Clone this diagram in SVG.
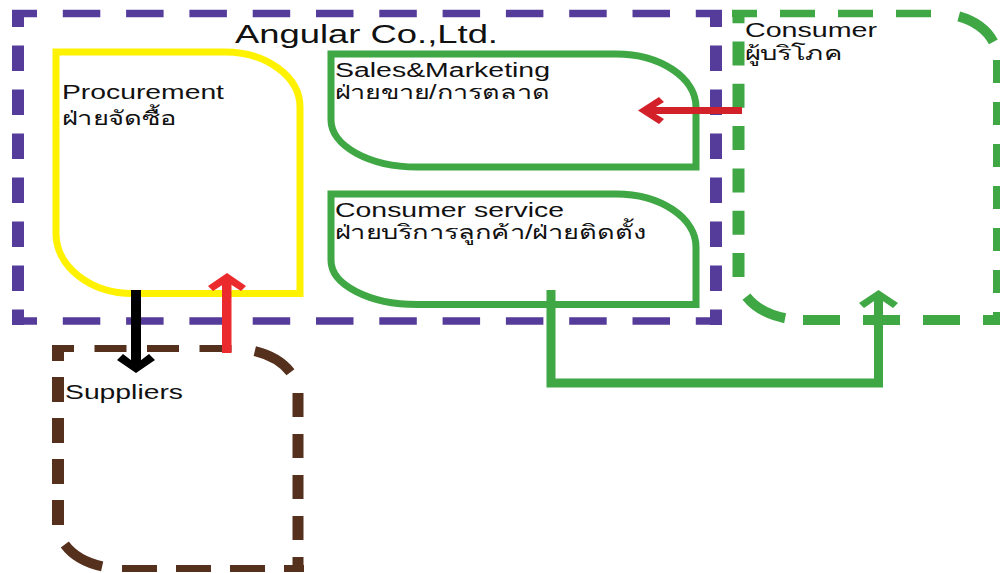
<svg xmlns="http://www.w3.org/2000/svg" width="1000" height="573" viewBox="0 0 1000 573">
<style>
.lbl{font-family:"Liberation Sans","DejaVu Sans","Noto Sans",sans-serif;font-size:19.5px;fill:#111}
.ttl{font-family:"Liberation Sans","DejaVu Sans","Noto Sans",sans-serif;font-size:26.5px;fill:#111}
.pH{fill:none;stroke:#553c9a;stroke-width:7.5;stroke-dasharray:37.5 25.8;stroke-dashoffset:12.5}
.pV{fill:none;stroke:#553c9a;stroke-width:12;stroke-dasharray:25.5 18.5;stroke-dashoffset:8.5}
.g{fill:none;stroke:#3fa844}
.b{fill:none;stroke:#55301c}
</style>
<rect width="1000" height="573" fill="#ffffff"/>
<g id="company">
<path class="pH" d="M12,13.5 H722"/>
<path class="pH" d="M12,321 H722"/>
<path class="pV" d="M18,10 V325"/>
<path class="pV" d="M716,10 V325"/>
<text class="ttl" x="235" y="43" textLength="263" lengthAdjust="spacingAndGlyphs">Angular Co.,Ltd.</text>
</g>
<g id="procurement">
<path d="M56,52 H225 A75,55 0 0 1 300,107 V293.5 H133 A77,60 0 0 1 56,233.5 Z" fill="none" stroke="#fff200" stroke-width="7"/>
<text class="lbl" x="62" y="99" textLength="162" lengthAdjust="spacingAndGlyphs">Procurement</text>
<text class="lbl" x="62" y="125" textLength="115" lengthAdjust="spacingAndGlyphs">ฝ่ายจัดซื้อ</text>
</g>
<g id="sales">
<path class="g" stroke-width="7" d="M331,54 H616 A80,53 0 0 1 696,107 V167 H417 A86,47 0 0 1 331,120 Z"/>
<text class="lbl" x="335" y="77" textLength="215" lengthAdjust="spacingAndGlyphs">Sales&amp;Marketing</text>
<text class="lbl" x="335" y="99" textLength="215" lengthAdjust="spacingAndGlyphs">ฝ่ายขาย/การตลาด</text>
</g>
<g id="service">
<path class="g" stroke-width="7" d="M331,194 H616 A80,53 0 0 1 696,247 V304.5 H417 A86,44 0 0 1 331,260.5 Z"/>
<text class="lbl" x="335" y="217" textLength="229" lengthAdjust="spacingAndGlyphs">Consumer service</text>
<text class="lbl" x="335" y="239" textLength="312" lengthAdjust="spacingAndGlyphs">ฝ่ายบริการลูกค้า/ฝ่ายติดตั้ง</text>
</g>
<g id="consumer">
<path class="g" stroke-width="7.5" stroke-dasharray="35 23" stroke-dashoffset="10" d="M732,13.5 H938"/>
<path class="g" stroke-width="10" stroke-dasharray="0 21 44 40" d="M938,13.5 A60,46 0 0 1 998,59.5"/>
<path class="g" stroke-width="10" stroke-dasharray="23 19" d="M998,60 V325"/>
<path class="g" stroke-width="10" stroke-dasharray="37 23" d="M803,320 H1000"/>
<path class="g" stroke-width="10" stroke-dasharray="0 18 45 40" d="M803,320 A64.5,45 0 0 1 738.5,275"/>
<path class="g" stroke-width="12" stroke-dasharray="24 18.3" d="M738.5,277 V10"/>
<text class="lbl" x="745" y="37" textLength="132" lengthAdjust="spacingAndGlyphs">Consumer</text>
<text class="lbl" x="745" y="60" textLength="97" lengthAdjust="spacingAndGlyphs">ผู้บริโภค</text>
</g>
<g id="suppliers">
<path class="b" stroke-width="7" stroke-dasharray="32 20.5" stroke-dashoffset="10" d="M52,348.5 H233"/>
<path class="b" stroke-width="10" stroke-dasharray="0 22 42 40" d="M233,348.5 A65,44.5 0 0 1 298,393"/>
<path class="b" stroke-width="11" stroke-dasharray="24 17" d="M298,393 V572"/>
<path class="b" stroke-width="7" stroke-dasharray="35 19" d="M122,568.5 H304"/>
<path class="b" stroke-width="10" stroke-dasharray="0 20 44 40" d="M122,568.5 A64,43.5 0 0 1 58,525"/>
<path class="b" stroke-width="12" stroke-dasharray="25 16" d="M58,525 V345"/>
<text class="lbl" x="65" y="399" textLength="118" lengthAdjust="spacingAndGlyphs">Suppliers</text>
</g>
<g id="connectors">
<rect x="131" y="290" width="10" height="76" fill="#000"/>
<polygon points="117,360 123,354 136,364 149,354 155,360 136,373" fill="#000"/>
<rect x="222" y="281" width="9.5" height="72" fill="#ea2a2c"/>
<polygon points="227,273 246,286 241,291 227,282 213,291 208,286" fill="#ea2a2c"/>
<rect x="650" y="107" width="92" height="7" fill="#d3212a"/>
<polygon points="638,110.5 659,97 664,102 650,110.5 664,119 659,124" fill="#d3212a"/>
<path d="M551,290 V383 H878.5 V298" fill="none" stroke="#3fa844" stroke-width="9"/>
<polygon points="878.5,290 898,303 893,308 878.5,298 864,308 859,303" fill="#3fa844"/>
</g>
</svg>
